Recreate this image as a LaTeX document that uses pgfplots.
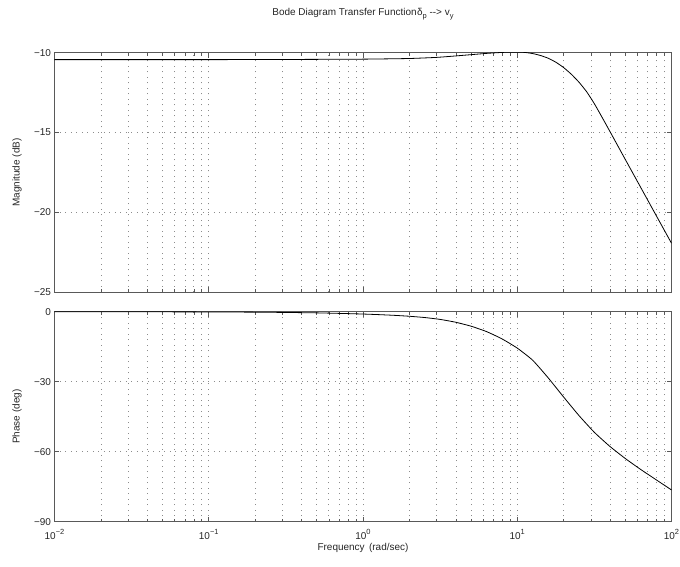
\documentclass[border=0pt]{standalone}
\usepackage{fontspec}
\setmainfont{Liberation Sans}
\usepackage{pgfplots}
\pgfplotsset{compat=1.18}
\definecolor{axgray}{gray}{0.35}
\definecolor{gridgray}{gray}{0.55}
\definecolor{txtgray}{gray}{0.15}
\newcommand\mysub[1]{\raisebox{-0.6ex}{\fontsize{7.5}{8}\selectfont #1}}
\newcommand\mysup[1]{\raisebox{0.9ex}{\fontsize{7.5}{8}\selectfont #1}}
\pgfplotstableread{
w mag
0.01 -10.44
0.1 -10.44
0.3162 -10.43
1 -10.41
1.995 -10.37
3.0 -10.30
3.981 -10.21
5.012 -10.13
6.310 -10.05
7.943 -9.99
8.913 -9.975
10 -9.97
11.22 -9.99
12.59 -10.06
14.13 -10.18
15.85 -10.35
17.78 -10.6
19.95 -10.93
22.39 -11.35
25.12 -11.85
28.18 -12.45
31.62 -13.2
35.48 -14.05
39.81 -14.92
44.67 -15.8
50.12 -16.68
63.10 -18.43
79.43 -20.18
100 -21.93
}\magdata
\pgfplotstableread{
w ph
0.01 -0.01
0.03 -0.03
0.1 -0.1
0.2 -0.2
0.3162 -0.32
0.5 -0.5
0.7 -0.72
1 -1.0
1.259 -1.25
1.585 -1.55
1.995 -1.95
2.512 -2.5
3.162 -3.3
3.981 -4.5
5.012 -6.2
6.310 -8.5
7.943 -11.6
10 -15.6
12.59 -20.8
15.85 -28.3
19.95 -36.5
25.12 -44.5
31.62 -51.7
39.81 -57.7
50.12 -62.9
63.10 -67.6
79.43 -72.0
100 -76.4
}\phdata
\begin{document}
\begin{tikzpicture}
\useasboundingbox (0,0) rectangle (680bp,567bp);
\begin{axis}[
  scale only axis, width=617bp, height=239.7bp,
  at={(54.5bp,274.7bp)}, anchor=south west,
  xmode=log, xmin=0.01, xmax=100,
  ymin=-25, ymax=-10,
  axis line style={draw=axgray, line width=0.6bp},
  every tick/.style={draw=axgray, line width=0.5bp},
  major tick length=5bp, minor tick length=3bp,
  tick align=inside,
  xtick={0.01,0.1,1,10,100}, xticklabels={},
  ytick={-25,-20,-15,-10}, yticklabels={−25,−20,−15,−10},
  xmajorgrids, xminorgrids, ymajorgrids,
  major grid style={draw=gridgray, line width=0.6bp, dash pattern=on 1bp off 4.5bp},
  minor grid style={draw=gridgray, line width=0.6bp, dash pattern=on 1bp off 4.5bp},
  ticklabel style={font=\fontsize{10}{12}\selectfont, text=txtgray},
  ylabel={Magnitude (dB)},
  ylabel style={at={(axis description cs:-0.0608,0.5)}, rotate=0, anchor=center, font=\fontsize{10}{12}\selectfont, text=txtgray},
  title={Bode Diagram Transfer Function\kern0.5pt δ\mysub{p} -{}-> v\mysub{y}},
  title style={at={(axis description cs:0.5,1)}, anchor=base, yshift=31bp, font=\fontsize{10}{12}\selectfont, text=txtgray},
]
\addplot[black, line width=0.8bp, smooth, tension=0.3] table[x=w, y=mag] {\magdata};
\end{axis}
\begin{axis}[
  scale only axis, width=617bp, height=210bp,
  at={(54.5bp,45.3bp)}, anchor=south west,
  xmode=log, xmin=0.01, xmax=100,
  ymin=-90, ymax=0,
  axis line style={draw=axgray, line width=0.6bp},
  every tick/.style={draw=axgray, line width=0.5bp},
  major tick length=5bp, minor tick length=3bp,
  tick align=inside,
  xtick={0.01,0.1,1,10,100},
  xticklabels={10\mysup{−2},10\mysup{−1},10\mysup{0},10\mysup{1},10\mysup{2}},
  xticklabel style={yshift=-4.5bp},
  ytick={-90,-60,-30,0}, yticklabels={−90,−60,−30,0},
  xmajorgrids, xminorgrids, ymajorgrids,
  major grid style={draw=gridgray, line width=0.6bp, dash pattern=on 1bp off 4.5bp},
  minor grid style={draw=gridgray, line width=0.6bp, dash pattern=on 1bp off 4.5bp},
  ticklabel style={font=\fontsize{10}{12}\selectfont, text=txtgray},
  ylabel={Phase (deg)},
  ylabel style={at={(axis description cs:-0.0608,0.5)}, rotate=0, anchor=center, font=\fontsize{10}{12}\selectfont, text=txtgray},
  xlabel={Frequency\hspace{0.45em}(rad/sec)},
  xlabel style={at={(axis description cs:0.5,-0.125)}, anchor=center, font=\fontsize{10}{12}\selectfont, text=txtgray},
]
\addplot[black, line width=0.8bp, smooth, tension=0.3] table[x=w, y=ph] {\phdata};
\end{axis}
\end{tikzpicture}
\end{document}
